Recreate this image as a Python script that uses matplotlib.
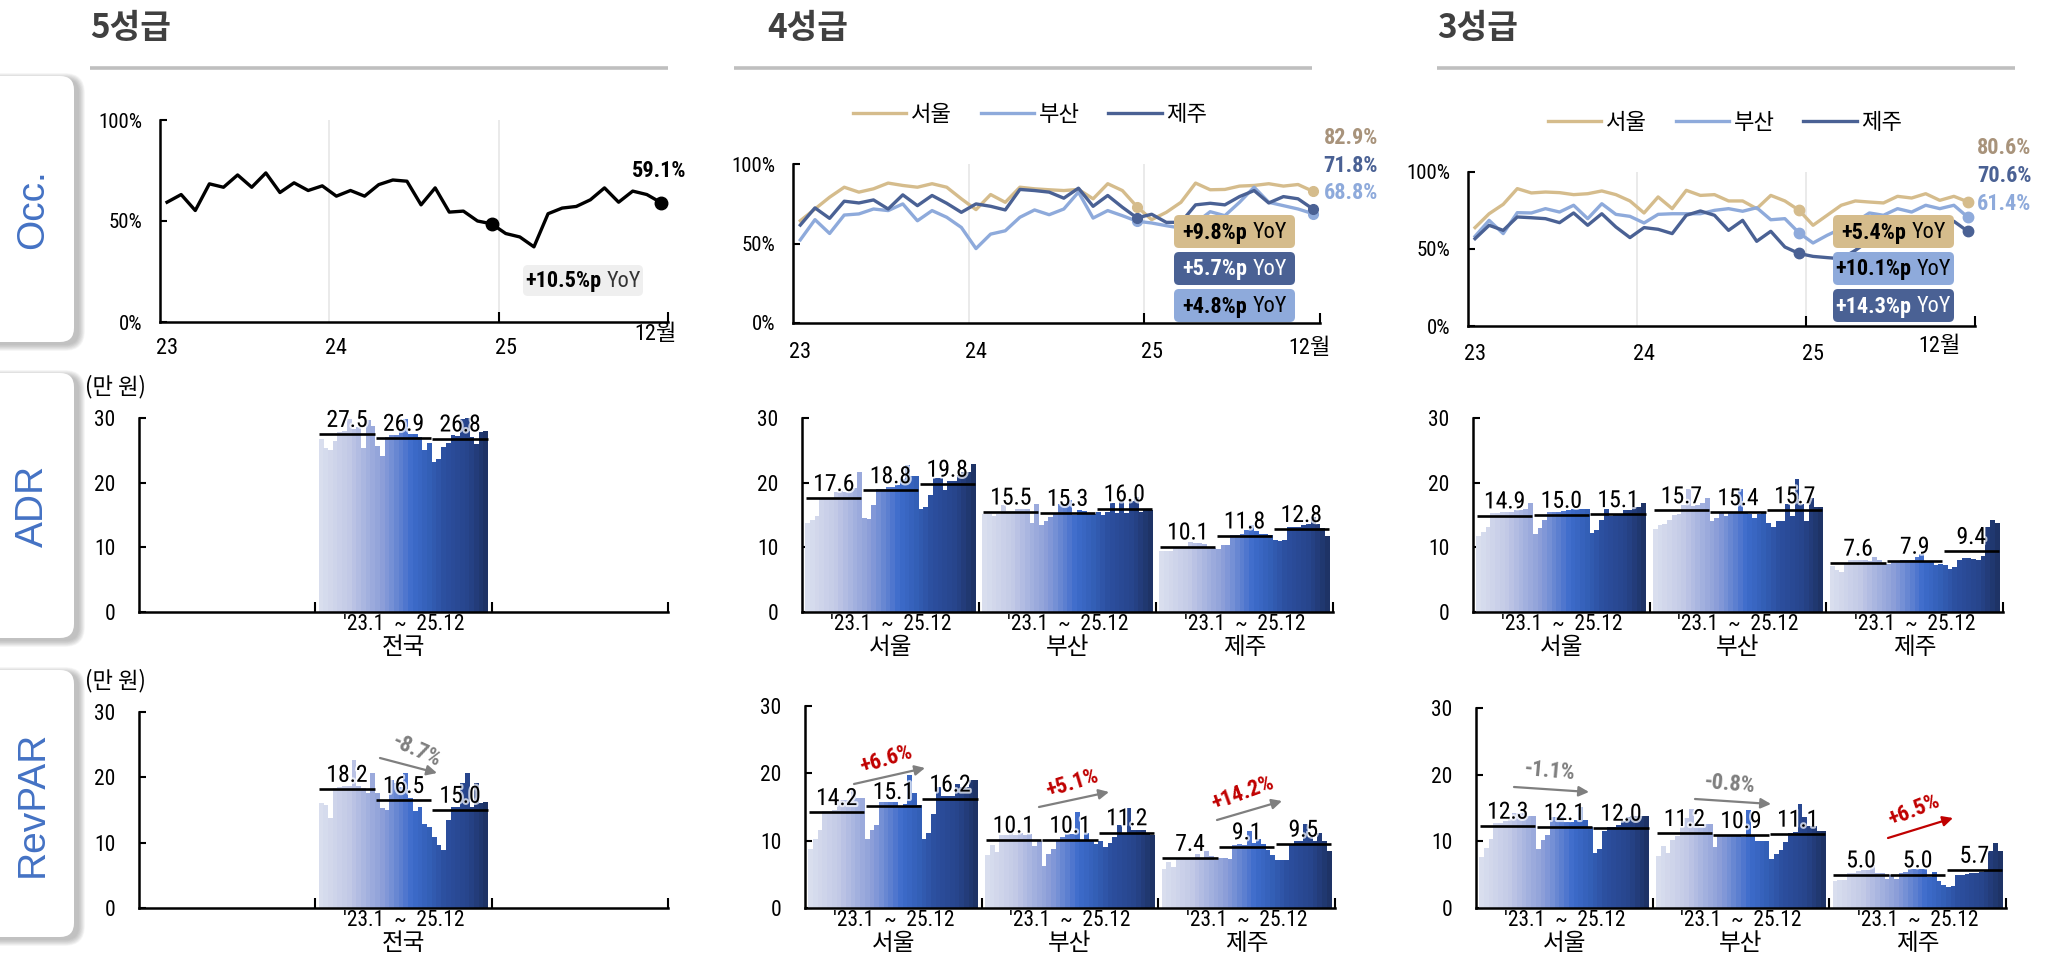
import numpy as np
import matplotlib
matplotlib.use('Agg')
import matplotlib.pyplot as plt
from matplotlib import font_manager
from matplotlib.colors import LinearSegmentedColormap
from matplotlib.patches import FancyBboxPatch, FancyArrowPatch
import matplotlib.patheffects as pe

# ---------------- monthly data : 2023.1 ~ 2025.12 ----------------
regions = ['서울', '부산', '제주']
year_ticks = ['23', '24', '25']

# occupancy (%)
occ5 = [59.3, 63.1, 55.2, 68.4, 66.7, 72.8, 66.7, 73.8, 64.1, 68.9, 65.1, 67.4,
        62.3, 65.1, 62.3, 68.0, 70.3, 69.7, 58.0, 66.4, 54.4, 54.9, 50.0, 48.6,
        43.8, 42.1, 37.2, 53.6, 56.4, 57.2, 60.5, 66.4, 59.3, 64.8, 63.1, 59.1]
occ4_seoul = [64.3, 71.7, 79.1, 85.4, 82.3, 84.4, 88.0, 86.5, 85.4, 87.6, 85.4, 78.1,
              71.3, 80.8, 75.9, 85.4, 84.4, 83.8, 83.3, 84.0, 78.1, 87.6, 83.3, 73.1,
              65.0, 69.6, 75.9, 88.0, 83.8, 84.0, 86.1, 86.5, 87.6, 86.1, 87.1, 82.9]
occ4_busan = [52.3, 65.0, 56.3, 67.9, 68.6, 71.7, 70.7, 74.9, 64.3, 70.7, 66.5, 60.1,
              46.8, 55.9, 58.0, 66.5, 71.1, 68.1, 71.7, 82.3, 66.0, 70.7, 67.5, 64.0,
              62.9, 61.2, 59.7, 62.9, 70.0, 67.5, 75.9, 85.4, 75.9, 73.8, 71.7, 68.8]
occ4_jeju = [61.6, 72.4, 65.8, 76.6, 75.5, 77.4, 71.7, 80.6, 73.8, 80.2, 75.3, 69.6,
             74.9, 73.4, 71.1, 84.0, 83.3, 82.3, 78.5, 84.8, 73.4, 80.2, 72.8, 66.1,
             68.4, 63.3, 63.3, 74.3, 75.3, 74.3, 79.5, 83.3, 75.5, 79.5, 78.1, 71.8]
occ3_seoul = [63.9, 72.9, 79.0, 89.2, 86.4, 87.0, 86.6, 85.3, 85.9, 87.7, 85.3, 81.2,
              73.4, 83.8, 76.2, 88.1, 84.8, 85.3, 81.2, 81.2, 76.2, 84.8, 81.2, 75.2,
              65.4, 71.9, 78.4, 81.2, 80.5, 79.9, 84.2, 83.1, 85.9, 81.6, 84.2, 80.6]
occ3_busan = [58.2, 68.6, 60.0, 73.6, 73.4, 76.2, 74.0, 78.4, 69.7, 79.4, 72.5, 71.2,
              66.9, 72.5, 72.9, 72.9, 72.9, 75.1, 76.2, 74.5, 76.8, 69.0, 69.7, 60.5,
              53.9, 58.9, 63.2, 67.5, 73.4, 71.9, 76.2, 74.0, 78.4, 76.2, 78.4, 70.6]
occ3_jeju = [56.7, 65.4, 62.1, 70.8, 70.3, 69.7, 67.1, 73.4, 65.4, 72.9, 64.3, 57.4,
             63.9, 62.8, 60.0, 71.9, 74.7, 71.9, 62.1, 68.6, 55.0, 61.5, 51.3, 47.1,
             45.2, 44.4, 43.7, 49.1, 55.6, 57.8, 60.0, 61.0, 62.6, 64.3, 68.0, 61.4]

# ADR (만 원)
adr5 = [26.8, 25.4, 25.0, 26.4, 27.8, 28.0, 29.9, 28.3, 28.6, 25.4, 29.7, 28.7,
        25.6, 24.2, 27.0, 27.3, 27.4, 28.0, 29.9, 27.5, 27.6, 27.0, 25.1, 26.2,
        23.2, 23.6, 25.5, 26.1, 27.3, 27.2, 29.8, 30.0, 27.0, 26.0, 27.9, 28.0]
adr4_seoul = [13.8, 14.3, 14.8, 17.4, 17.4, 17.4, 18.6, 18.7, 18.5, 18.9, 19.2, 21.6,
              14.5, 14.4, 16.6, 19.0, 19.0, 19.3, 19.4, 19.6, 20.5, 22.8, 21.0, 21.0,
              16.0, 16.2, 18.1, 20.7, 20.7, 18.9, 20.2, 20.3, 21.2, 21.7, 21.7, 22.9]
adr4_busan = [15.1, 15.1, 14.8, 15.2, 16.6, 15.6, 15.6, 16.0, 16.0, 16.0, 13.7, 16.7,
              13.5, 14.0, 14.7, 15.3, 16.7, 16.6, 17.3, 15.0, 15.8, 15.6, 15.3, 15.2,
              15.5, 15.0, 15.5, 16.9, 15.3, 17.1, 15.3, 17.2, 17.8, 15.4, 15.8, 15.8]
adr4_jeju = [9.5, 9.5, 9.4, 10.1, 10.1, 10.1, 10.9, 10.6, 10.6, 10.5, 10.1, 9.9,
             9.7, 10.3, 10.4, 11.9, 11.9, 12.0, 12.7, 13.4, 12.6, 12.0, 12.0, 11.9,
             11.2, 11.0, 11.2, 13.2, 13.2, 13.2, 13.5, 13.6, 14.7, 13.6, 13.0, 11.8]
adr3_seoul = [11.8, 12.3, 13.2, 15.3, 15.3, 15.4, 15.4, 15.5, 15.8, 15.8, 15.9, 16.9,
              12.1, 13.0, 14.2, 15.5, 15.5, 15.4, 15.6, 15.8, 16.0, 16.0, 15.9, 15.9,
              12.2, 12.7, 14.2, 15.9, 14.8, 15.1, 15.2, 15.7, 15.7, 16.3, 16.3, 16.8]
adr3_busan = [12.9, 13.5, 13.6, 14.3, 15.0, 15.2, 16.6, 19.0, 16.4, 16.5, 16.8, 17.6,
              14.0, 14.5, 15.3, 14.8, 15.5, 15.3, 19.0, 15.5, 15.2, 14.6, 15.2, 15.3,
              13.7, 13.2, 14.0, 14.0, 16.7, 14.8, 20.5, 16.7, 14.1, 17.6, 16.3, 16.3]
adr3_jeju = [7.1, 6.5, 6.2, 7.6, 8.0, 8.0, 8.0, 8.0, 7.9, 8.5, 8.1, 7.5,
             7.4, 7.8, 7.7, 8.0, 8.0, 8.0, 8.5, 8.9, 7.9, 7.8, 7.2, 7.5,
             7.3, 6.7, 7.0, 8.0, 8.3, 8.3, 8.2, 8.1, 8.6, 13.1, 14.3, 13.8]

# RevPAR (만 원)
rev5 = [16.0, 15.8, 13.7, 18.4, 18.5, 18.6, 18.7, 22.7, 18.6, 18.4, 17.6, 20.6,
        17.6, 15.3, 15.0, 19.6, 19.1, 18.5, 20.7, 16.8, 14.8, 15.4, 12.8, 12.4,
        10.9, 9.6, 8.9, 13.5, 15.5, 15.5, 19.1, 20.7, 15.5, 19.1, 16.1, 16.3]
rev4_seoul = [8.8, 10.3, 11.6, 14.4, 14.4, 14.6, 16.1, 16.1, 16.1, 17.5, 16.3, 16.3,
              10.3, 11.6, 12.4, 15.7, 15.7, 15.7, 15.7, 15.2, 15.4, 19.8, 17.1, 15.3,
              10.3, 11.2, 14.0, 17.9, 16.7, 16.7, 16.7, 18.4, 17.9, 17.9, 19.0, 19.0]
rev4_busan = [7.9, 9.3, 8.3, 10.9, 10.9, 11.7, 10.9, 11.2, 10.9, 11.0, 9.2, 10.0,
              6.3, 8.0, 8.8, 10.0, 10.5, 11.0, 11.0, 14.3, 10.1, 11.1, 9.9, 9.5,
              10.0, 9.0, 9.6, 10.6, 12.4, 11.0, 14.9, 11.6, 11.6, 11.6, 11.0, 10.9]
rev4_jeju = [5.8, 6.9, 6.1, 7.5, 7.5, 7.5, 7.5, 8.0, 7.5, 8.5, 7.7, 7.1,
             7.4, 7.4, 7.3, 9.3, 9.5, 9.4, 11.4, 9.6, 10.3, 9.5, 8.6, 7.8,
             7.1, 7.2, 7.2, 9.5, 10.0, 10.0, 12.5, 10.5, 10.0, 11.2, 10.0, 8.5]
rev3_seoul = [7.7, 9.0, 10.3, 12.7, 12.7, 13.0, 13.4, 14.2, 14.2, 14.2, 13.8, 13.8,
              8.8, 10.2, 10.9, 13.7, 13.7, 13.7, 12.9, 12.9, 13.2, 15.2, 13.2, 12.2,
              8.2, 8.9, 11.5, 12.2, 12.2, 12.4, 13.1, 13.7, 13.8, 13.8, 13.8, 13.8]
rev3_busan = [7.8, 9.3, 8.2, 10.2, 10.8, 12.2, 13.5, 14.8, 12.8, 12.2, 12.6, 12.6,
              9.2, 10.9, 10.9, 10.9, 10.9, 10.9, 10.7, 14.7, 10.8, 10.0, 10.0, 10.1,
              7.4, 8.1, 8.7, 9.9, 11.2, 11.4, 15.6, 13.6, 12.3, 12.3, 11.5, 11.5]
rev3_jeju = [4.0, 4.2, 4.2, 5.3, 5.3, 5.5, 5.7, 5.7, 6.4, 5.3, 5.2, 4.3,
             4.9, 4.3, 5.2, 5.4, 5.9, 5.9, 5.8, 5.8, 4.7, 5.4, 4.1, 3.4,
             3.2, 3.3, 4.9, 5.0, 5.1, 5.2, 5.3, 5.4, 5.5, 8.6, 9.8, 8.5]

# yearly averages (2023, 2024, 2025)
adr5_avg = [27.5, 26.9, 26.8]
adr4_avg_seoul, adr4_avg_busan, adr4_avg_jeju = [17.6, 18.8, 19.8], [15.5, 15.3, 16.0], [10.1, 11.8, 12.8]
adr3_avg_seoul, adr3_avg_busan, adr3_avg_jeju = [14.9, 15.0, 15.1], [15.7, 15.4, 15.7], [7.6, 7.9, 9.4]
rev5_avg = [18.2, 16.5, 15.0]
rev4_avg_seoul, rev4_avg_busan, rev4_avg_jeju = [14.2, 15.1, 16.2], [10.1, 10.1, 11.2], [7.4, 9.1, 9.5]
rev3_avg_seoul, rev3_avg_busan, rev3_avg_jeju = [12.3, 12.1, 12.0], [11.2, 10.9, 11.1], [5.0, 5.0, 5.7]

# RevPAR change 2023 -> 2025
rev5_chg = ['-8.7%']
rev4_chg = ['+6.6%', '+5.1%', '+14.2%']
rev3_chg = ['-1.1%', '-0.8%', '+6.5%']

# ---------------- style ----------------
W, H = 2049, 958

installed = {f.name for f in font_manager.fontManager.ttflist}
NARROW = next((f for f in ['Liberation Sans Narrow', 'Arial Narrow', 'Roboto Condensed', 'Liberation Sans']
               if f in installed), 'DejaVu Sans')
KR = 'Noto Sans CJK KR'
plt.rcParams['font.family'] = [NARROW, KR, 'DejaVu Sans']
plt.rcParams['axes.unicode_minus'] = False

C_SEOUL = '#D5BC8C'
C_BUSAN = '#8EAADB'
C_JEJU = '#4A6194'
C_SEOUL_TXT = '#A8937B'
C_RED = '#C00000'
C_ARROW = '#7F7F7F'
C_TITLE = '#404040'

month_cmap = LinearSegmentedColormap.from_list('months', [
    (0.0, '#D9DEEE'), (0.17, '#C2C9E6'), (0.27, '#A6B3DF'), (0.38, '#8A9DD8'),
    (0.49, '#5A7ED0'), (0.55, '#3D6BCB'), (0.65, '#3460B8'), (0.75, '#2C4F9F'),
    (0.9, '#27448A'), (1.0, '#1E3366')])

fig = plt.figure(figsize=(W / 100, H / 100), dpi=100)
ov = fig.add_axes([0, 0, 1, 1], zorder=10)
ov.set_xlim(0, W)
ov.set_ylim(H, 0)
ov.axis('off')
renderer = fig.canvas.get_renderer()


def px_axes(x0, x1, y0, y1):
    return fig.add_axes([x0 / W, 1 - y1 / H, (x1 - x0) / W, (y1 - y0) / H])


def style_spines(ax):
    for s in ['top', 'right']:
        ax.spines[s].set_visible(False)
    for s in ['left', 'bottom']:
        ax.spines[s].set_linewidth(1.8)


def two_part(xc, yc, bold, reg, color, size=15, reg_color=None):
    t1 = ov.text(0, yc, bold, fontsize=size, weight='bold', color=color, va='center', ha='left', zorder=6)
    t2 = ov.text(0, yc, reg, fontsize=size, color=reg_color or color, va='center', ha='left', zorder=6)
    w1 = t1.get_window_extent(renderer).width
    w2 = t2.get_window_extent(renderer).width
    gap = size * 0.35
    x0 = xc - (w1 + gap + w2) / 2
    t1.set_x(x0)
    t2.set_x(x0 + w1 + gap)


def yoy_box(x0, x1, y0, y1, fc, txt, color, reg_color=None):
    ov.add_patch(FancyBboxPatch((x0, y0), x1 - x0, y1 - y0, boxstyle='round,pad=0,rounding_size=5',
                                fc=fc, ec='none', zorder=5))
    two_part((x0 + x1) / 2, (y0 + y1) / 2 + 1, txt, 'YoY', color, 16, reg_color)


def occ_panel(box, series, colors, dot_ms, lab_y, last_x):
    x0, x1, y0, y1 = box
    ax = px_axes(x0, x1, y0, y1)
    m = np.arange(36)
    lines = []
    for vals, c in zip(series, colors):
        ln, = ax.plot(m, vals, color=c, lw=2.4, zorder=3)
        ax.plot([23, 35], [vals[23], vals[35]], 'o', color=c, ms=dot_ms, zorder=4)
        lines.append(ln)
    ax.set_xlim(-0.5, 35.5)
    ax.set_ylim(0, 100)
    style_spines(ax)
    ax.axvline(11.5, color='#E6E6E6', lw=1.2, zorder=1)
    ax.axvline(23.5, color='#E6E6E6', lw=1.2, zorder=1)
    ax.set_yticks([0, 50, 100])
    ax.set_yticklabels(['0%', '50%', '100%'])
    ax.tick_params(axis='y', direction='in', length=5, width=1.5, pad=13, labelsize=15)
    ax.set_xticks([23.5, 35.5])
    ax.set_xticklabels(['', ''])
    ax.tick_params(axis='x', direction='in', length=7, width=1.5)
    for i, t in zip([0, 12, 24], year_ticks):
        ax.annotate(t, xy=(i, 0), xycoords=('data', 'axes fraction'), xytext=(0, -lab_y[0] * 0.72),
                    textcoords='offset points', ha='center', va='center', fontsize=16)
    ax.annotate('12월', xy=(last_x, 0), xycoords=('data', 'axes fraction'), xytext=(0, -lab_y[1] * 0.72),
                textcoords='offset points', ha='center', va='center', fontsize=16)
    return ax, lines


SPAN = 0.962


def bar_panel(box, data, avgs, names):
    x0, x1, y0, y1 = box
    ax = px_axes(x0, x1, y0, y1)
    bw = SPAN / 36
    cols = month_cmap(np.linspace(0, 1, 36))
    for c, (vals, av, nm) in enumerate(zip(data, avgs, names)):
        if vals is None:
            continue
        left = c - SPAN / 2
        xs = left + bw * (np.arange(36) + 0.5)
        ax.bar(xs, vals, width=bw * 1.05, color=cols, linewidth=0, zorder=2)
        for k, a in enumerate(av):
            xa = left + bw * 12 * k + 0.004
            xb = left + bw * 12 * (k + 1) - 0.004
            ax.plot([xa, xb], [a, a], color='black', lw=1.9, zorder=3, solid_capstyle='butt')
            ax.text((xa + xb) / 2, a + 0.35, f'{a:.1f}', ha='center', va='bottom', fontsize=17, zorder=4,
                    path_effects=[pe.withStroke(linewidth=3, foreground='white', alpha=0.7)])
        ax.annotate("'23.1  ~  25.12", xy=(c, 0), xycoords=('data', 'axes fraction'),
                    xytext=(0, -13 * 0.72), textcoords='offset points', ha='center', va='center', fontsize=15.5)
        ax.annotate(nm, xy=(c, 0), xycoords=('data', 'axes fraction'), xytext=(0, -35 * 0.72),
                    textcoords='offset points', ha='center', va='center', fontsize=17)
    ax.set_xlim(-0.5, 2.5)
    ax.set_ylim(0, 30)
    style_spines(ax)
    ax.set_yticks([0, 10, 20, 30])
    ax.tick_params(axis='y', direction='in', length=5, width=1.5, pad=17, labelsize=15.5)
    ax.set_xticks([0.5, 1.5, 2.5])
    ax.set_xticklabels(['', '', ''])
    ax.tick_params(axis='x', direction='in', length=7, width=1.5)
    return ax


# ---------------- titles and row labels ----------------
for x0, x1, t in [(90, 668, '5성급'), (767, 1312, '4성급'), (1437, 2015, '3성급')]:
    ov.text(x0, 28, t, fontsize=24, weight='bold', color=C_TITLE, family=KR, ha='left', va='center')
ov.plot([90, 668], [68, 68], color='#BFBFBF', lw=2.6, solid_capstyle='butt')
ov.plot([734, 1312], [68, 68], color='#BFBFBF', lw=2.6, solid_capstyle='butt')
ov.plot([1437, 2015], [68, 68], color='#BFBFBF', lw=2.6, solid_capstyle='butt')

for y0, y1, t in [(76, 342, 'Occ.'), (373, 638, 'ADR'), (670, 937, 'RevPAR')]:
    for k in range(10):
        g = k * 1.3
        ov.add_patch(FancyBboxPatch((-30 - g / 2 + 5, y0 + 3 - g / 2), 104 + g, (y1 - y0) + g,
                                    boxstyle=f'round,pad=0,rounding_size={14 + g / 2}',
                                    fc='#707070', ec='none', alpha=0.05, zorder=1))
    ov.add_patch(FancyBboxPatch((-30, y0), 104, y1 - y0, boxstyle='round,pad=0,rounding_size=14',
                                fc='white', ec='none', zorder=2))
    ov.text(33, (y0 + y1) / 2, t, rotation=90, fontsize=28, color='#4472C4', family='Liberation Sans',
            ha='center', va='center', zorder=3)

# ---------------- occupancy ----------------
occ_panel((160, 668, 120, 322), [occ5], ['black'], 9, (27, 13), 34.6)
ov.text(659, 171, f'{occ5[-1]:.1f}%', fontsize=16, weight='bold', color='black', ha='center', va='center')
yoy_box(523, 643, 265, 296, '#EFEFEF', f'{occ5[35] - occ5[23]:+.1f}%p', 'black', '#333333')

ax4, l4 = occ_panel((793, 1320, 164, 323), [occ4_seoul, occ4_busan, occ4_jeju],
                    [C_SEOUL, C_BUSAN, C_JEJU], 7, (29, 25), 34.8)
ax4.legend(l4, regions, loc='center', bbox_to_anchor=(1030, 115), bbox_transform=ov.transData, ncol=3,
           frameon=False, fontsize=16, handlelength=2.4, handletextpad=0.2, columnspacing=1.3)
for yy, v, c in [(138, occ4_seoul[-1], C_SEOUL_TXT), (166, occ4_jeju[-1], C_JEJU), (193, occ4_busan[-1], C_BUSAN)]:
    ov.text(1351, yy, f'{v:.1f}%', fontsize=16, weight='bold', color=c, ha='center', va='center')
yoy_box(1174, 1295, 215, 248, C_SEOUL, f'{occ4_seoul[35] - occ4_seoul[23]:+.1f}%p', 'black')
yoy_box(1174, 1295, 252, 285, C_JEJU, f'{occ4_jeju[35] - occ4_jeju[23]:+.1f}%p', 'white')
yoy_box(1174, 1295, 289, 322, C_BUSAN, f'{occ4_busan[35] - occ4_busan[23]:+.1f}%p', 'black')

ax3, l3 = occ_panel((1468, 1975, 172, 326), [occ3_seoul, occ3_busan, occ3_jeju],
                    [C_SEOUL, C_BUSAN, C_JEJU], 7.5, (28, 21), 33.0)
ax3.legend(l3, regions, loc='center', bbox_to_anchor=(1725, 123), bbox_transform=ov.transData, ncol=3,
           frameon=False, fontsize=16, handlelength=2.4, handletextpad=0.2, columnspacing=1.3)
for yy, v, c in [(148, occ3_seoul[-1], C_SEOUL_TXT), (176, occ3_busan[-1], C_JEJU), (204, occ3_jeju[-1], C_BUSAN)]:
    ov.text(2004, yy, f'{v:.1f}%', fontsize=16, weight='bold', color=c, ha='center', va='center')
yoy_box(1833, 1954, 215, 248, C_SEOUL, f'{occ3_seoul[35] - occ3_seoul[23]:+.1f}%p', 'black')
yoy_box(1833, 1954, 252, 285, C_BUSAN, f'{occ3_busan[35] - occ3_busan[23]:+.1f}%p', 'black')
yoy_box(1833, 1954, 289, 322, C_JEJU, f'{occ3_jeju[35] - occ3_jeju[23]:+.1f}%p', 'white')

# ---------------- ADR ----------------
bar_panel((139, 668, 418, 612), [None, adr5, None], [None, adr5_avg, None], ['', '전국', ''])
bar_panel((802, 1333, 418, 612), [adr4_seoul, adr4_busan, adr4_jeju],
          [adr4_avg_seoul, adr4_avg_busan, adr4_avg_jeju], regions)
bar_panel((1473, 2003, 418, 612), [adr3_seoul, adr3_busan, adr3_jeju],
          [adr3_avg_seoul, adr3_avg_busan, adr3_avg_jeju], regions)

# ---------------- RevPAR ----------------
bar_panel((139, 668, 712, 908), [None, rev5, None], [None, rev5_avg, None], ['', '전국', ''])
bar_panel((805, 1335, 706, 908), [rev4_seoul, rev4_busan, rev4_jeju],
          [rev4_avg_seoul, rev4_avg_busan, rev4_avg_jeju], regions)
bar_panel((1476, 2006, 708, 908), [rev3_seoul, rev3_busan, rev3_jeju],
          [rev3_avg_seoul, rev3_avg_busan, rev3_avg_jeju], regions)

for y in (387, 681):
    ov.text(115, y, '(만 원)', fontsize=16, family=KR, ha='center', va='center')

# change arrows: (start, end, label position, rotation, label, colour of label, colour of arrow)
arrows = [
    ((380, 758), (437, 773), (417, 751), -24, rev5_chg[0], C_ARROW, C_ARROW),
    ((854, 784), (925, 768), (886, 759), 17, rev4_chg[0], C_RED, C_ARROW),
    ((1039, 807), (1109, 792), (1072, 783), 17, rev4_chg[1], C_RED, C_ARROW),
    ((1217, 820), (1282, 801), (1243, 793), 20, rev4_chg[2], C_RED, C_ARROW),
    ((1514, 787), (1589, 792), (1550, 771), -5, rev3_chg[0], C_ARROW, C_ARROW),
    ((1695, 799), (1771, 804), (1730, 784), -5, rev3_chg[1], C_ARROW, C_ARROW),
    ((1888, 838), (1953, 818), (1914, 810), 22, rev3_chg[2], C_RED, C_RED),
]
for p0, p1, pl, rot, txt, tc, ac in arrows:
    ov.add_patch(FancyArrowPatch(p0, p1, arrowstyle='-|>', mutation_scale=15, lw=1.6, color=ac,
                                 shrinkA=0, shrinkB=0, zorder=6))
    ov.text(pl[0], pl[1], txt, rotation=rot, rotation_mode='anchor', fontsize=16, weight='bold',
            color=tc, ha='center', va='center', zorder=6)

fig.savefig('out.png', dpi=100)
